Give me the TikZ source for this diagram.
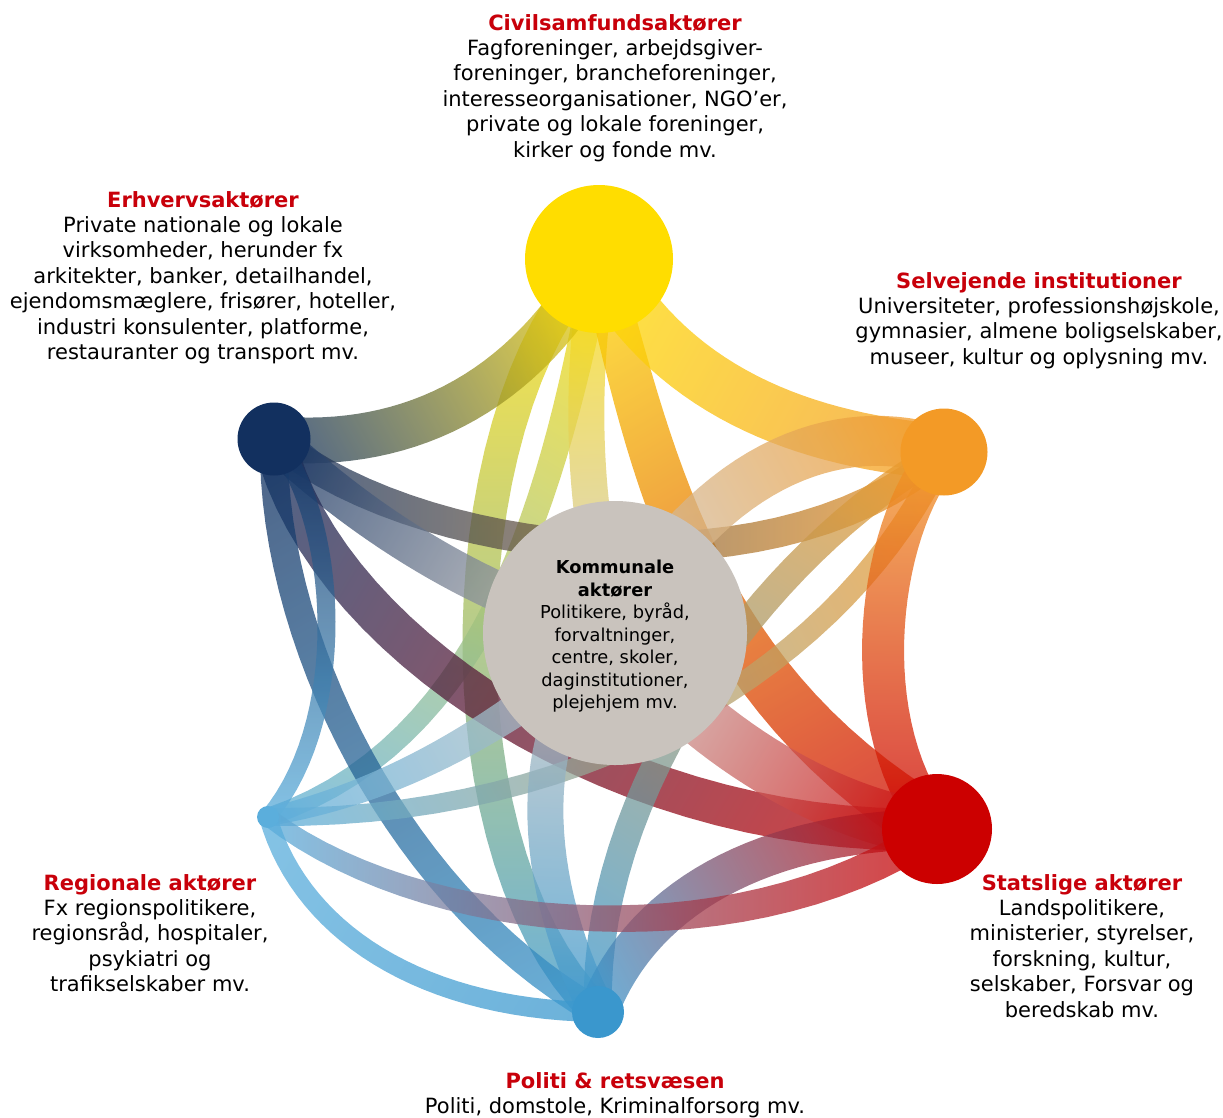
\documentclass[tikz,border=0pt]{standalone}
\usepackage{fontspec}
\setmainfont{DejaVu Sans}
\usepackage{xcolor}
\usetikzlibrary{calc}
\definecolor{colcivil}{HTML}{FFDD00}
\definecolor{colerhverv}{HTML}{12305F}
\definecolor{colselvej}{HTML}{F39A26}
\definecolor{colkommune}{HTML}{C9C3BD}
\definecolor{colstat}{HTML}{CC0000}
\definecolor{colregion}{HTML}{5BAEDC}
\definecolor{colpoliti}{HTML}{3A97CD}
\definecolor{titlered}{HTML}{C8000A}

\tikzset{
  actor/.style={circle, inner sep=0pt},
  infotext/.style={align=center, inner sep=0pt, anchor=north, font=\fontsize{21}{25.4}\selectfont},
}
\newcommand\ttl[1]{\textcolor{titlered}{\bfseries #1}}

% band between two actors: outline of the curve, filled with a shading
% that runs from the colour of the first actor to the colour of the second
\newcommand\ribbon[6]{%
  \path (#1.center) .. controls #2 and #3 .. (#4.center)
    \foreach \k [evaluate=\k as \tt using \k/30] in {0,...,30} {coordinate[pos=\tt] (rb\k)};
  \foreach \k [evaluate={\k as \kn using int(min(\k+1,30))},
               evaluate={\k as \kp using int(max(\k-1,0))},
               evaluate=\k as \hw using (#5+(#6-#5)*\k/30)/2] in {0,...,30} {
    \coordinate (rbt) at ($(rb\k)+(rb\kn)-(rb\kp)$);
    \coordinate (rl\k) at ($(rb\k)!\hw pt!90:(rbt)$);
    \coordinate (rr\k) at ($(rb\k)!\hw pt!-90:(rbt)$);
  }
  \coordinate (rbmid) at ($(#1.center)!0.5!(#4.center)$);
  \path let \p1=($(#4.center)-(#1.center)$) in
    \pgfextra{\pgfmathsetmacro\rbang{atan2(\y1,\x1)}\xdef\rbangle{\rbang}%
              \pgfmathsetmacro\rblen{veclen(\x1,\y1)}\xdef\rblength{\rblen}};
  \pgfdeclarehorizontalshading{rb#1#4}{800bp}{color(0bp)=(col#1); color(25bp)=(col#1); color(75bp)=(col#4); color(100bp)=(col#4)}
  \begin{scope}
    \clip (rl0) \foreach \k in {1,...,30} {-- (rl\k)} \foreach \k in {30,29,...,0} {-- (rr\k)} -- cycle;
    \begin{scope}[transform canvas={shift={(rbmid)}, rotate=\rbangle, xscale=\rblength/50}, fill opacity=0.75]
      \pgfuseshading{rb#1#4}
    \end{scope}
  \end{scope}}

\begin{document}
\begin{tikzpicture}[x=1pt, y=-1pt]
  \useasboundingbox (0,0) rectangle (1223,1117);

  % Actors
  \node[actor, minimum size=148pt] (civil) at (599,259) {};
  \node[actor, minimum size=73pt] (erhverv) at (274,439) {};
  \node[actor, minimum size=87pt] (selvej) at (944,452) {};
  \node[actor, minimum size=110pt] (stat) at (937,829) {};
  \node[actor, minimum size=22pt] (region) at (268,817) {};
  \node[actor, minimum size=52pt] (politi) at (598,1012) {};
  \node[actor, minimum size=264pt] (kommune) at (615,633) {};

  % Bands
  \ribbon{civil}{(450,400)}{(430,850)}{politi}{34}{34}
  \ribbon{civil}{(560,460)}{(500,740)}{region}{30}{18}
  \ribbon{civil}{(580,380)}{(580,500)}{kommune}{36}{36}
  \ribbon{civil}{(650,450)}{(690,680)}{stat}{40}{60}
  \ribbon{civil}{(670,390)}{(800,440)}{selvej}{55}{55}
  \ribbon{erhverv}{(400,450)}{(520,400)}{civil}{46}{44}
  \ribbon{erhverv}{(420,560)}{(780,600)}{selvej}{30}{30}
  \ribbon{erhverv}{(360,520)}{(480,600)}{kommune}{40}{40}
  \ribbon{erhverv}{(320,640)}{(620,840)}{stat}{42}{42}
  \ribbon{erhverv}{(270,640)}{(400,900)}{politi}{28}{28}
  \ribbon{erhverv}{(340,520)}{(350,720)}{region}{20}{16}
  \ribbon{selvej}{(850,420)}{(720,450)}{kommune}{50}{50}
  \ribbon{selvej}{(780,540)}{(590,780)}{politi}{28}{28}
  \ribbon{selvej}{(860,640)}{(620,820)}{region}{24}{18}
  \ribbon{selvej}{(880,520)}{(850,720)}{stat}{42}{42}
  \ribbon{kommune}{(720,760)}{(850,820)}{stat}{55}{55}
  \ribbon{region}{(350,800)}{(470,760)}{kommune}{18}{38}
  \ribbon{kommune}{(520,720)}{(530,880)}{politi}{36}{36}
  \ribbon{politi}{(640,900)}{(760,830)}{stat}{40}{40}
  \ribbon{region}{(430,940)}{(750,960)}{stat}{18}{34}
  \ribbon{region}{(300,930)}{(420,1010)}{politi}{18}{20}

  % Circles on top of the bands
  \fill[colcivil] (civil) circle[radius=74pt];
  \fill[colerhverv] (erhverv) circle[radius=36.5pt];
  \fill[colselvej] (selvej) circle[radius=43.5pt];
  \fill[colstat] (stat) circle[radius=55pt];
  \fill[colregion] (region) circle[radius=11pt];
  \fill[colpoliti] (politi) circle[radius=26pt];
  \fill[colkommune] (kommune) circle[radius=132pt];

  % Texts
  \node[infotext] (civiltxt) at (615,14) {\ttl{Civilsamfundsaktører}\\Fagforeninger, arbejdsgiver-\\foreninger, brancheforeninger,\\interesseorganisationer, NGO’er,\\private og lokale foreninger,\\kirker og fonde mv.};
  \node[infotext] (erhvervtxt) at (203,191) {\ttl{Erhvervsaktører}\\Private nationale og lokale\\virksomheder, herunder fx\\arkitekter, banker, detailhandel,\\ejendomsmæglere, frisører, hoteller,\\industri konsulenter, platforme,\\restauranter og transport mv.};
  \node[infotext] (selvejtxt) at (1039,272) {\ttl{Selvejende institutioner}\\Universiteter, professionshøjskole,\\gymnasier, almene boligselskaber,\\museer, kultur og oplysning mv.};
  \node[infotext, font=\fontsize{17.8}{22.5}\selectfont] (kommunetxt) at (615,560) {\textbf{Kommunale}\\\textbf{aktører}\\Politikere, byråd,\\forvaltninger,\\centre, skoler,\\daginstitutioner,\\plejehjem mv.};
  \node[infotext] (regiontxt) at (150,874) {\ttl{Regionale aktører}\\Fx regionspolitikere,\\regionsråd, hospitaler,\\psykiatri og\\trafikselskaber mv.};
  \node[infotext] (stattxt) at (1082,874) {\ttl{Statslige aktører}\\Landspolitikere,\\ministerier, styrelser,\\forskning, kultur,\\selskaber, Forsvar og\\beredskab mv.};
  \node[infotext] (politxt) at (615,1072) {\ttl{Politi \& retsvæsen}\\Politi, domstole, Kriminalforsorg mv.};
\end{tikzpicture}
\end{document}
